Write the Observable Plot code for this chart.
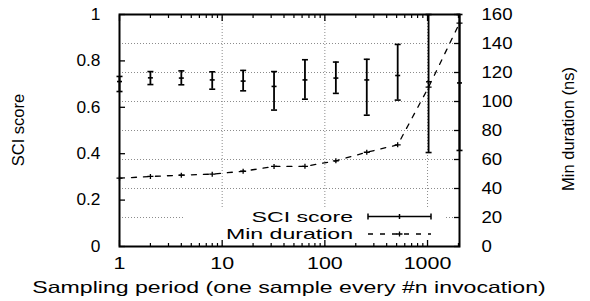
<!DOCTYPE html>
<html>
<head>
<meta charset="utf-8">
<script src="https://cdn.jsdelivr.net/npm/d3@7"></script>
<script src="https://cdn.jsdelivr.net/npm/@observablehq/plot@0.6"></script>
<style>
html, body { margin: 0; padding: 0; background: #fff; }
#chart { width: 590px; height: 301px; }
</style>
</head>
<body>
<div id="chart"></div>
<script>
// ---- data ----
const periods = [1, 2, 4, 8, 16, 32, 64, 128, 256, 512, 1024, 2048];
const sciScore = [0.711, 0.727, 0.726, 0.718, 0.713, 0.690, 0.718, 0.726, 0.718, 0.737, 0.710, 0.705];
const sciLow   = [0.668, 0.698, 0.697, 0.678, 0.671, 0.588, 0.635, 0.660, 0.566, 0.631, 0.405, 0.414];
const sciHigh  = [0.733, 0.754, 0.757, 0.753, 0.759, 0.754, 0.805, 0.795, 0.807, 0.871, 1.000, 1.000];
const minDuration = [47.1, 48.3, 49.2, 49.9, 51.9, 55.2, 55.3, 59.1, 65.0, 70.1, 109.9, 154.0];

const xTicks = [1, 10, 100, 1000];
const xMinorTicks = [2, 3, 4, 5, 6, 7, 8, 9, 20, 30, 40, 50, 60, 70, 80, 90, 200, 300, 400, 500, 600, 700, 800, 900, 2000];
const yTicks = [0, 0.2, 0.4, 0.6, 0.8, 1];
const y2Ticks = [0, 20, 40, 60, 80, 100, 120, 140, 160];
const y2Max = 160;

const xLabel = "Sampling period (one sample every #n invocation)";
const yLabel = "SCI score";
const y2Label = "Min duration (ns)";
const legendLabels = ["SCI score", "Min duration"];

// ---- build ----
const rows = periods.map((p, i) => ({
  p, s: sciScore[i], lo: sciLow[i], hi: sciHigh[i], d: minDuration[i] / y2Max
}));

const capSymbol = {draw(ctx) { ctx.moveTo(-3, 0); ctx.lineTo(3, 0); }};
const midSymbol = {draw(ctx) { ctx.moveTo(-2.5, 0); ctx.lineTo(2.5, 0); }};
const plusSymbol = {draw(ctx) { ctx.moveTo(-3, 0); ctx.lineTo(3, 0); ctx.moveTo(0, -2.5); ctx.lineTo(0, 2.5); }};

const FS = 16.5;
const gridStyle = {stroke: "#8c8c8c", strokeDasharray: "1,2", strokeWidth: 1};

const legendBox = (index, scales, values, dims) => {
  const right = dims.width - dims.marginRight, bottom = dims.height - dims.marginBottom;
  const g = d3.create("svg:g");
  g.append("rect")
    .attr("x", right - 276).attr("y", bottom - 38)
    .attr("width", 262).attr("height", 37)
    .attr("fill", "white");
  return g.node();
};

const decorations = (index, scales, values, dims) => {
  const left = dims.marginLeft, right = dims.width - dims.marginRight;
  const top = dims.marginTop, bottom = dims.height - dims.marginBottom;
  const g = d3.create("svg:g").attr("fill", "black").attr("font-size", FS);
  // legend
  const textX = right - 106, x1 = right - 91, x2 = right - 28, mid = (x1 + x2) / 2;
  const ly = [bottom - 29.5, bottom - 12];
  legendLabels.forEach((lab, i) => {
    g.append("text")
      .attr("transform", `translate(${textX},${ly[i]}) scale(1.54,1)`)
      .attr("font-size", 15)
      .attr("text-anchor", "end").attr("dy", "0.36em").text(lab);
  });
  const st = (sel, w) => sel.attr("stroke", "black").attr("stroke-width", w).attr("fill", "none");
  st(g.append("line").attr("x1", x1).attr("x2", x2).attr("y1", ly[0]).attr("y2", ly[0]), 1.5);
  st(g.append("line").attr("x1", x1).attr("x2", x1).attr("y1", ly[0] - 3).attr("y2", ly[0] + 3), 1.5);
  st(g.append("line").attr("x1", x2).attr("x2", x2).attr("y1", ly[0] - 3).attr("y2", ly[0] + 3), 1.5);
  st(g.append("line").attr("x1", mid).attr("x2", mid).attr("y1", ly[0] - 2.5).attr("y2", ly[0] + 2.5), 1.5);
  st(g.append("line").attr("x1", x1).attr("x2", x2).attr("y1", ly[1]).attr("y2", ly[1]), 1.3)
    .attr("stroke-dasharray", "5,7");
  st(g.append("path").attr("d", `M${mid - 3},${ly[1]}H${mid + 3}M${mid},${ly[1] - 2.5}V${ly[1] + 2.5}`), 1.3);
  // axis titles
  g.append("text")
    .attr("transform", `translate(${(left + right) / 2},${bottom + 41}) scale(1.4,1)`)
    .attr("text-anchor", "middle").attr("dy", "0.36em").text(xLabel);
  g.append("text")
    .attr("transform", `translate(${left - 101},${(top + bottom) / 2}) rotate(-90)`)
    .attr("text-anchor", "middle").attr("dy", "0.36em").text(yLabel);
  g.append("text")
    .attr("transform", `translate(${right + 109},${(top + bottom) / 2 - 1}) rotate(-90)`)
    .attr("text-anchor", "middle").attr("dy", "0.36em").text(y2Label);
  return g.node();
};

const svg = Plot.plot({
  width: 590,
  height: 301,
  marginLeft: 119,
  marginRight: 131,
  marginTop: 14,
  marginBottom: 55,
  style: {fontFamily: "'Liberation Sans', Arial, Helvetica, sans-serif", fontSize: FS + "px", color: "black", background: "white"},
  x: {type: "log", domain: [1, 2048]},
  y: {domain: [0, 1]},
  marks: [
    // grid
    Plot.ruleY(y2Ticks.filter(v => v > 0 && v < y2Max).map(v => v / y2Max), gridStyle),
    Plot.ruleX(xTicks.filter(v => v > 1), gridStyle),
    legendBox,
    Plot.frame({stroke: "black", strokeWidth: 2}),
    // inward ticks
    Plot.axisY(yTicks, {anchor: "left", tickSize: 6, dx: 6, fill: "none", label: null, strokeWidth: 1.3}),
    Plot.axisY(y2Ticks.map(v => v / y2Max), {anchor: "right", tickSize: 6, dx: -6, fill: "none", label: null, strokeWidth: 1.3}),
    Plot.axisX(xTicks, {anchor: "bottom", tickSize: 6, dy: -6, fill: "none", label: null, strokeWidth: 1.3}),
    Plot.axisX(xTicks, {anchor: "top", tickSize: 6, dy: 6, fill: "none", label: null, strokeWidth: 1.3}),
    Plot.axisX(xMinorTicks, {anchor: "bottom", tickSize: 3, dy: -3, fill: "none", label: null, strokeWidth: 1.2}),
    Plot.axisX(xMinorTicks, {anchor: "top", tickSize: 3, dy: 3, fill: "none", label: null, strokeWidth: 1.2}),
    // tick labels
    Plot.axisY(yTicks, {anchor: "left", tickSize: 0, tickPadding: 19, label: null, tickFormat: d => String(d)}),
    Plot.axisY(y2Ticks.map(v => v / y2Max), {anchor: "right", tickSize: 0, tickPadding: 22, label: null, tickFormat: d => String(Math.round(d * y2Max))}),
    Plot.axisX(xTicks, {anchor: "bottom", tickSize: 0, tickPadding: 11, label: null, tickFormat: d => String(d)}),
    // SCI score error bars
    Plot.ruleX(rows, {x: "p", y1: "lo", y2: "hi", stroke: "black", strokeWidth: 1.8}),
    Plot.dot(rows, {x: "p", y: "lo", symbol: capSymbol, fill: "none", stroke: "black", strokeWidth: 1.6}),
    Plot.dot(rows, {x: "p", y: "hi", symbol: capSymbol, fill: "none", stroke: "black", strokeWidth: 1.6}),
    Plot.dot(rows, {x: "p", y: "s", symbol: midSymbol, fill: "none", stroke: "black", strokeWidth: 1.6}),
    // Min duration
    Plot.line(rows, {x: "p", y: "d", stroke: "black", strokeWidth: 1.3, strokeDasharray: "5,7"}),
    Plot.dot(rows, {x: "p", y: "d", symbol: plusSymbol, fill: "none", stroke: "black", strokeWidth: 1.3}),
    decorations
  ]
});

// horizontal stretch of tick labels to match the reference lettering
function getX(t) {
  const tr = t.getAttribute("transform");
  if (tr) { const m = /translate\(([-\d.]+)/.exec(tr); if (m) return +m[1]; }
  return +(t.getAttribute("x") || 0);
}
function stretchText(t, s) {
  const tr = t.getAttribute("transform");
  if (tr) t.setAttribute("transform", tr + ` scale(${s},1)`);
  else {
    const x = +(t.getAttribute("x") || 0), y = +(t.getAttribute("y") || 0);
    t.removeAttribute("x"); t.removeAttribute("y");
    t.setAttribute("transform", `translate(${x},${y}) scale(${s},1)`);
  }
}
svg.querySelectorAll('g[aria-label="x-axis tick label"] text').forEach(t => stretchText(t, 1.3));
svg.querySelectorAll('g[aria-label="y-axis tick label"] text').forEach(t => stretchText(t, getX(t) < 295 ? 1.05 : 1.13));

document.getElementById("chart").appendChild(svg);
</script>
</body>
</html>
